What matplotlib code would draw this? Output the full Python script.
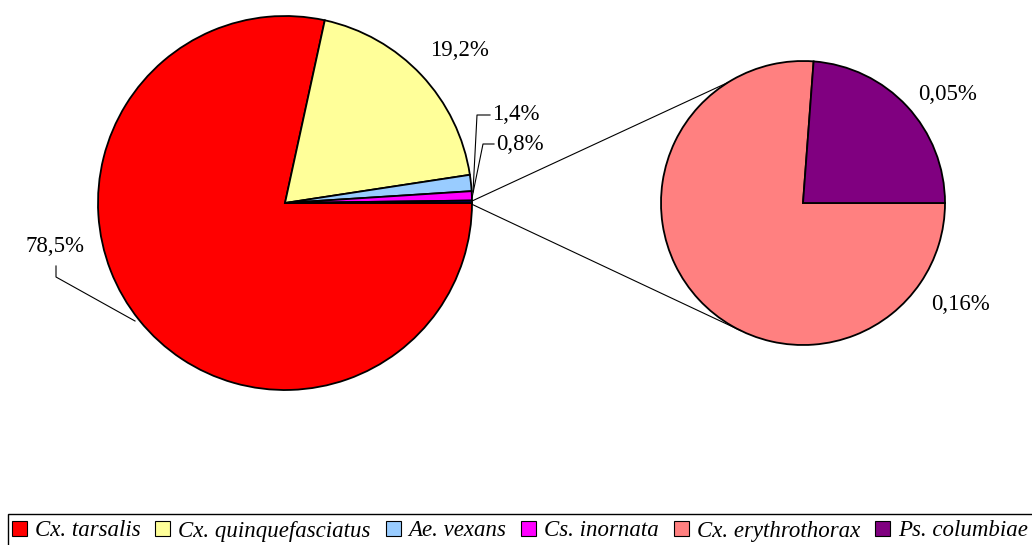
import numpy as np
import matplotlib.pyplot as plt
from matplotlib.patches import Patch, Rectangle

# dados
especies = ["Cx. tarsalis", "Cx. quinquefasciatus", "Ae. vexans",
            "Cs. inornata", "Cx. erythrothorax", "Ps. columbiae"]
cores = ["#ff0000", "#ffff99", "#99ccff", "#ff00ff", "#ff8080", "#800080"]
principal = [78.5, 19.2, 1.4, 0.8]      # pizza principal
secundaria = [0.16, 0.05]              # pizza secundaria (outros)
rotulos_principal = ["78,5%", "19,2%", "1,4%", "0,8%"]
rotulos_secundaria = ["0,16%", "0,05%"]

plt.rcParams["font.family"] = ["Liberation Serif", "DejaVu Serif"]

W, H = 1032, 545
fig = plt.figure(figsize=(W / 100, H / 100), dpi=100)
ax = fig.add_axes([0, 0, 1, 1])

c1, r1 = (285, 342), 187
c2, r2 = (803, 342), 142

outros = sum(secundaria)
valores = principal + [outros]
ax.pie(valores, colors=cores[:4] + ["#000080"], startangle=0, counterclock=False,
       center=c1, radius=r1, wedgeprops=dict(edgecolor="black", linewidth=1.3),
       frame=True)

ang_sec = 360 * secundaria[1] / outros
ax.pie(secundaria, colors=cores[4:], startangle=ang_sec, counterclock=True,
       center=c2, radius=r2, wedgeprops=dict(edgecolor="black", linewidth=1.3),
       frame=True)
ax.set_xlim(0, W)
ax.set_ylim(0, H)
ax.set_aspect("equal")
ax.axis("off")

# linhas de ligacao
def ponto(c, r, ang):
    a = np.radians(ang)
    return c[0] + r * np.cos(a), c[1] + r * np.sin(a)

for a_ini, a_fim in [(0.6, 122), (-0.4, -116)]:
    x0, y0 = ponto(c1, r1, a_ini)
    x1, y1 = ponto(c2, r2, a_fim)
    ax.plot([x0, x1], [y0, y1], color="black", lw=0.8)

fs = 16.5
def y(v):
    return H - v

# rotulos
ax.text(55, y(247), rotulos_principal[0], fontsize=fs, ha="center", va="center")
ax.plot([56, 56, 135], [y(266), y(277), y(321)], color="black", lw=0.8)
ax.text(459, y(50), rotulos_principal[1], fontsize=fs, ha="center", va="center")
ax.text(492, y(115), rotulos_principal[2], fontsize=fs, ha="left", va="center")
ax.plot([490, 477, 473], [y(115), y(115), y(192)], color="black", lw=0.8)
ax.text(496, y(144), rotulos_principal[3], fontsize=fs, ha="left", va="center")
ax.plot([494, 483, 472], [y(144), y(144), y(198)], color="black", lw=0.8)
ax.text(960, y(305), rotulos_secundaria[0], fontsize=fs, ha="center", va="center")
ax.text(948, y(95), rotulos_secundaria[1], fontsize=fs, ha="center", va="center")

# legenda
ax.add_patch(Rectangle((8, -5), W, y(514) + 5, fill=False, edgecolor="black",
                       lw=1.0, clip_on=False))
handles = [Patch(facecolor=c, edgecolor="black", linewidth=0.8) for c in cores]
leg = fig.legend(handles, especies, loc="center left", bbox_to_anchor=(12 / W, 1 - 531 / H),
                 ncol=6, frameon=False, handlelength=0.65, handleheight=0.65,
                 handletextpad=0.35, columnspacing=0.65, borderpad=0, borderaxespad=0,
                 prop=dict(family="Liberation Serif", style="italic", size=fs))

fig.savefig("out.png", dpi=100)
